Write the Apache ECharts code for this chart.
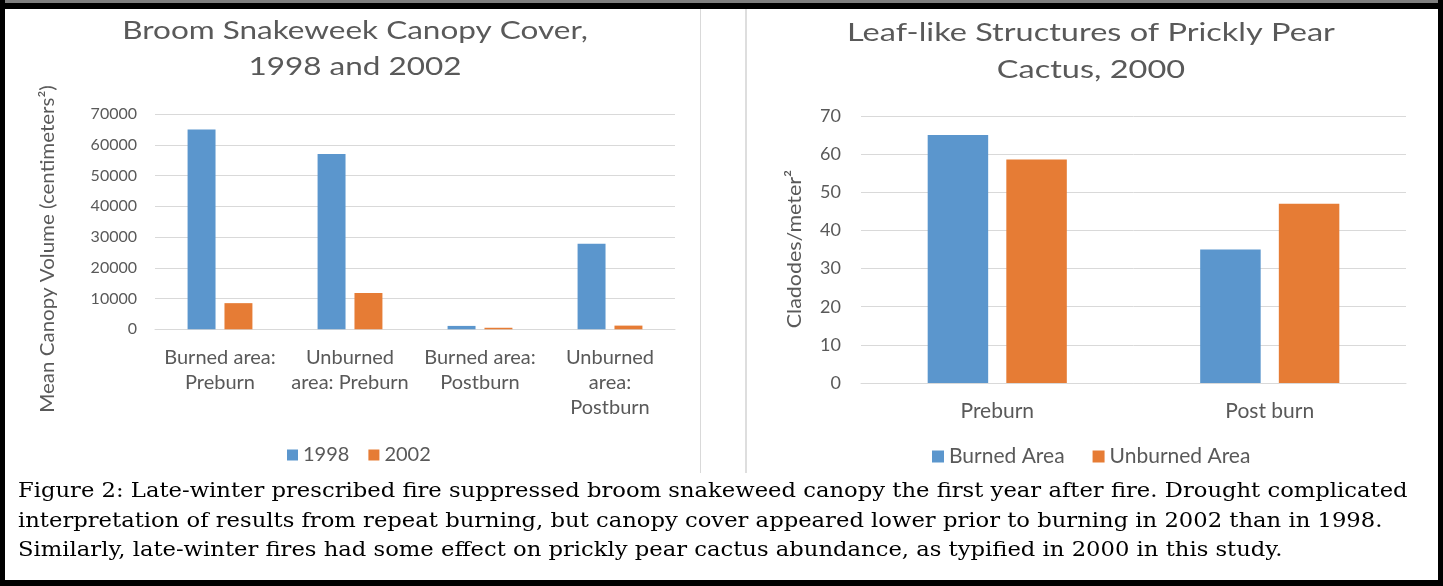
<!DOCTYPE html>
<html>
<head>
<meta charset="utf-8">
<script src="https://cdn.jsdelivr.net/npm/echarts@6/dist/echarts.min.js"></script>
<style>
html,body{margin:0;padding:0;background:#fff;}
#c{width:1443px;height:586px;}
</style>
</head>
<body>
<div id="c"></div>
<script>
// ---- data ----
const leftCategories = ['Burned area:\nPreburn', 'Unburned\narea: Preburn', 'Burned area:\nPostburn', 'Unburned\narea:\nPostburn'];
const values1998 = [65000, 57000, 1100, 27800];
const values2002 = [8500, 11800, 500, 1200];
const leftTicks = { min: 0, max: 70000, interval: 10000 };
const leftSeriesNames = ['1998', '2002'];

const rightCategories = ['Preburn', 'Post burn'];
const burnedArea = [65, 35];
const unburnedArea = [58.6, 47];
const rightTicks = { min: 0, max: 70, interval: 10 };
const rightSeriesNames = ['Burned Area', 'Unburned Area'];

const leftTitle = 'Broom Snakeweek Canopy Cover,\n1998 and 2002';
const rightTitle = 'Leaf-like Structures of Prickly Pear\nCactus, 2000';
const leftYName = 'Mean Canopy Volume (centimeters\u00B2)';
const rightYName = 'Cladodes/meter\u00B2';
const caption = [
  'Figure 2: Late-winter prescribed fire suppressed broom snakeweed canopy the first year after fire. Drought complicated',
  'interpretation of results from repeat burning, but canopy cover appeared lower prior to burning in 2002 than in 1998.',
  'Similarly, late-winter fires had some effect on prickly pear cactus abundance, as typified in 2000 in this study.'
];

// ---- style ----
const BLUE = '#5B96CD', ORANGE = '#E67C35', TXT = '#595959', GRID = '#D9D9D9';
const FONT = 'Lato, "Open Sans", sans-serif';

const chart = echarts.init(document.getElementById('c'), null, { renderer: 'canvas' });

const graphics = [
  // frame
  { type: 'rect', shape: { x: 0, y: 0, width: 1443, height: 3 }, style: { fill: '#7f7f7f' }, silent: true },
  { type: 'rect', shape: { x: 0, y: 3, width: 1443, height: 6 }, style: { fill: '#000' }, silent: true },
  { type: 'rect', shape: { x: 0, y: 0, width: 5, height: 586 }, style: { fill: '#000' }, silent: true },
  { type: 'rect', shape: { x: 1438, y: 0, width: 5, height: 586 }, style: { fill: '#000' }, silent: true },
  { type: 'rect', shape: { x: 0, y: 580, width: 1443, height: 6 }, style: { fill: '#000' }, silent: true },
  // panel separators
  { type: 'line', shape: { x1: 700.5, y1: 9, x2: 700.5, y2: 473 }, style: { stroke: '#D9D9D9', lineWidth: 1 }, silent: true },
  { type: 'line', shape: { x1: 746, y1: 9, x2: 746, y2: 473 }, style: { stroke: '#DEDEDE', lineWidth: 2 }, silent: true },
  // titles
  { type: 'text', x: 355, y: 49, scaleX: 1.26, style: { text: leftTitle, fill: TXT, font: '25px ' + FONT, lineHeight: 36, align: 'center', verticalAlign: 'middle' } },
  { type: 'text', x: 1091, y: 51, scaleX: 1.3, style: { text: rightTitle, fill: TXT, font: '25px ' + FONT, lineHeight: 37, align: 'center', verticalAlign: 'middle' } },
  // y axis names
  { type: 'text', x: 48, y: 249, rotation: Math.PI / 2, scaleX: 1.08, style: { text: leftYName, fill: TXT, font: '19px ' + FONT, align: 'center', verticalAlign: 'middle' } },
  { type: 'text', x: 795, y: 249, rotation: Math.PI / 2, scaleX: 1.07, style: { text: rightYName, fill: TXT, font: '20px ' + FONT, align: 'center', verticalAlign: 'middle' } }
];
caption.forEach((line, i) => {
  graphics.push({ type: 'text', x: 18, y: 492 + i * 29.5, scaleX: 1.08, style: { text: line, fill: '#000', font: '21px "DejaVu Serif", serif', align: 'left', verticalAlign: 'middle' } });
});

const option = {
  animation: false,
  backgroundColor: '#fff',
  textStyle: { fontFamily: FONT },
  grid: [
    { left: 155, top: 114, width: 520, height: 215.3 },
    { left: 861, top: 116, width: 545, height: 267 }
  ],
  xAxis: [
    { type: 'category', gridIndex: 0, data: leftCategories,
      axisLine: { lineStyle: { color: GRID } }, axisTick: { show: false },
      axisLabel: { color: TXT, fontSize: 20, lineHeight: 25, margin: 16, interval: 0, fontFamily: FONT } },
    { type: 'category', gridIndex: 1, data: rightCategories,
      axisLine: { lineStyle: { color: GRID } }, axisTick: { show: false },
      axisLabel: { color: TXT, fontSize: 21, lineHeight: 22, margin: 17, interval: 0, fontFamily: FONT } }
  ],
  yAxis: [
    { type: 'value', gridIndex: 0, min: leftTicks.min, max: leftTicks.max, interval: leftTicks.interval,
      axisLine: { show: false }, axisTick: { show: false },
      splitLine: { lineStyle: { color: GRID } },
      axisLabel: { color: TXT, fontSize: 16, margin: 18, fontFamily: FONT, formatter: v => String(v) } },
    { type: 'value', gridIndex: 1, min: rightTicks.min, max: rightTicks.max, interval: rightTicks.interval,
      axisLine: { show: false }, axisTick: { show: false },
      splitLine: { lineStyle: { color: GRID } },
      axisLabel: { color: TXT, fontSize: 18, margin: 20, fontFamily: FONT } }
  ],
  legend: [
    { data: leftSeriesNames, left: 282, top: 440, itemWidth: 11, itemHeight: 11, itemGap: 19,
      icon: 'rect', textStyle: { color: TXT, fontSize: 20, fontFamily: FONT } },
    { data: rightSeriesNames, left: 927, top: 441, itemWidth: 12, itemHeight: 12, itemGap: 28,
      icon: 'rect', textStyle: { color: TXT, fontSize: 21, fontFamily: FONT } }
  ],
  series: [
    { name: leftSeriesNames[0], type: 'bar', xAxisIndex: 0, yAxisIndex: 0, data: values1998,
      itemStyle: { color: BLUE }, barWidth: '21.5%', barGap: '32%' },
    { name: leftSeriesNames[1], type: 'bar', xAxisIndex: 0, yAxisIndex: 0, data: values2002,
      itemStyle: { color: ORANGE }, barWidth: '21.5%', barGap: '32%' },
    { name: rightSeriesNames[0], type: 'bar', xAxisIndex: 1, yAxisIndex: 1, data: burnedArea,
      itemStyle: { color: BLUE }, barWidth: '22.2%', barGap: '30%' },
    { name: rightSeriesNames[1], type: 'bar', xAxisIndex: 1, yAxisIndex: 1, data: unburnedArea,
      itemStyle: { color: ORANGE }, barWidth: '22.2%', barGap: '30%' }
  ],
  graphic: graphics
};
chart.setOption(option);
</script>
</body>
</html>
